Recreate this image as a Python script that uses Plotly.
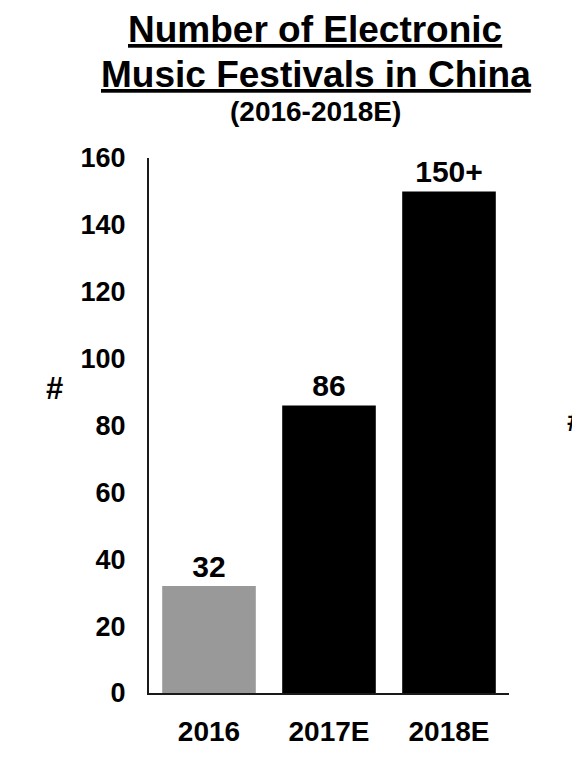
import plotly.graph_objects as go

categories = ["2016", "2017E", "2018E"]
values = [32, 86, 150]
value_labels = ["32", "86", "150+"]
bar_colors = ["#999999", "#000000", "#000000"]
y_ticks = [0, 20, 40, 60, 80, 100, 120, 140, 160]

FONT = "Liberation Sans, Arial, sans-serif"

OFF = 8  # default page body margin
W, H = 572, 763
ML, MT = 149 - OFF, 158 - OFF
PW, PH = 360, 535
MR = W - ML - PW
MB = H - MT - PH


def py(page_px):
    return (MT + PH - (page_px - OFF)) / PH


def pxx(page_px):
    return ((page_px - OFF) - ML) / PW


fig = go.Figure()
fig.add_trace(go.Bar(
    x=categories,
    y=values,
    marker=dict(color=bar_colors, line=dict(width=0)),
    text=value_labels,
    textposition="outside",
    textfont=dict(family=FONT, size=30, color="#000000", weight="bold"),
    cliponaxis=False,
    hoverinfo="skip",
))

fig.update_layout(
    width=W, height=H,
    margin=dict(l=ML, r=MR, t=MT, b=MB, pad=0),
    paper_bgcolor="white", plot_bgcolor="white",
    bargap=0.22,
    showlegend=False,
    font=dict(family=FONT, color="#000000"),
)
fig.update_xaxes(
    range=[-0.5, 2.5],
    showline=True, linecolor="#1a1a1a", linewidth=2,
    showgrid=False, zeroline=False, ticks="",
    tickfont=dict(family=FONT, size=28, color="#000000", weight="bold"),
    ticklabelstandoff=12,
)
fig.update_yaxes(
    range=[0, 160],
    tickvals=y_ticks,
    showline=True, linecolor="#1a1a1a", linewidth=2,
    showgrid=False, zeroline=False, ticks="",
    tickfont=dict(family=FONT, size=27, color="#000000", weight="bold"),
    ticklabelstandoff=16,
)

annotations = [
    dict(text="<b><u>Number of Electronic</u></b>", x=pxx(315), y=py(29), size=37),
    dict(text="<b><u>Music Festivals in China</u></b>", x=pxx(316), y=py(75), size=37),
    dict(text="<b>(2016-2018E)</b>", x=pxx(315), y=py(111), size=28),
]
for a in annotations:
    fig.add_annotation(
        text=a["text"], x=a["x"], y=a["y"], xref="paper", yref="paper",
        xanchor="center", yanchor="middle", showarrow=False,
        font=dict(family=FONT, size=a["size"], color="#000000"),
    )

fig.add_annotation(
    text="<b>#</b>", x=pxx(54), y=py(388), xref="paper", yref="paper",
    xanchor="center", yanchor="middle", showarrow=False,
    font=dict(family=FONT, size=31, color="#000000"),
)
fig.add_annotation(
    text="<b>#</b>", x=pxx(565), y=py(420), xref="paper", yref="paper",
    xanchor="left", yanchor="middle", showarrow=False,
    font=dict(family=FONT, size=31, color="#000000"),
)

fig.write_html("out.html")
